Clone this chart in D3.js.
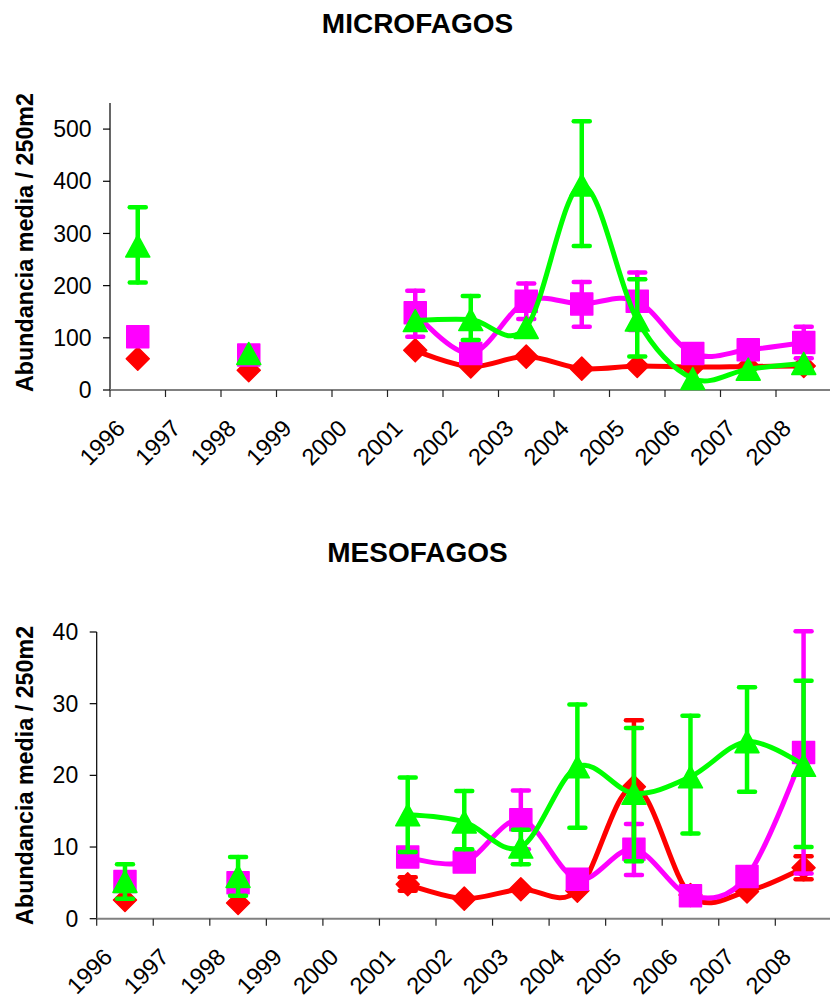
<!DOCTYPE html>
<html>
<head>
<meta charset="utf-8">
<script src="https://cdn.jsdelivr.net/npm/d3@7"></script>
<style>
  html, body { margin: 0; padding: 0; background: #fff; }
  svg { display: block; }
  text { font-family: "Liberation Sans", Arial, sans-serif; fill: #000; }
</style>
</head>
<body>
<svg id="chart" width="830" height="1001"></svg>
<script>
// ---------- DATA ----------
const years = ["1996","1997","1998","1999","2000","2001","2002","2003","2004","2005","2006","2007","2008"];

const microTicks = [0, 100, 200, 300, 400, 500];
const mesoTicks = [0, 10, 20, 30, 40];

// MICROFAGOS
const microRed      = [60, null, 38, null, null, 76, 45, 64, 41, 46, 44, 45, 46];
const microRedHi    = [null, null, null, null, null, null, null, null, null, null, null, null, null];
const microRedLo    = [null, null, null, null, null, null, null, null, null, null, null, null, null];
const microMagenta  = [102, null, 67, null, null, 148, 70, 170, 165, 170, 70, 77, 91];
const microMagentaHi= [null, null, null, null, null, 190, null, 204, 207, 225, null, null, 121];
const microMagentaLo= [null, null, null, null, null, 102, null, 136, 121, 115, null, null, 61];
const microGreen    = [276, null, 70, null, null, 133, 135, 120, 393, 134, 22, 40, 51];
const microGreenHi  = [350, null, null, null, null, null, 180, null, 515, 212, null, null, null];
const microGreenLo  = [206, null, null, null, null, null, 96, null, 276, 64, null, null, null];

// MESOFAGOS
const mesoRed       = [2.6, null, 2.2, null, null, 4.8, 2.8, 4.1, 3.9, 18.4, 3.3, 3.8, 7.1];
const mesoRedHi     = [null, null, null, null, null, 5.8, null, null, null, 27.7, null, null, 8.7];
const mesoRedLo     = [null, null, null, null, null, 3.9, null, null, null, 9.1, null, null, 5.5];
const mesoMagenta   = [5.2, null, 5.0, null, null, 8.6, 7.9, 13.8, 5.5, 9.7, 3.2, 5.9, 23.2];
const mesoMagentaHi = [null, null, null, null, null, null, null, 17.9, null, 13.2, null, null, 40.1];
const mesoMagentaLo = [null, null, null, null, null, null, null, 9.7, null, 6.1, null, null, 6.3];
const mesoGreen     = [5.2, null, 5.9, null, null, 14.5, 13.5, 10.0, 21.2, 17.5, 19.8, 24.7, 21.4];
const mesoGreenHi   = [7.6, null, 8.6, null, null, 19.7, 17.8, 12.4, 29.9, 26.6, 28.3, 32.3, 33.2];
const mesoGreenLo   = [2.8, null, 3.2, null, null, 9.3, 9.7, 7.6, 12.7, 8.0, 11.9, 17.7, 10.0];

const colRed = "#FF0000", colMagenta = "#FF00FF", colGreen = "#00FF00";

// ---------- DRAW ----------
const svg = d3.select("#chart");

function markerPath(shape) {
  if (shape === "diamond") return "M0,-11.5L11.5,0L0,11.5L-11.5,0Z";
  if (shape === "triangle") return "M0,-11L12,11L-12,11Z";
  return "M-11,-11L11,-11L11,11L-11,11Z";
}

function drawChart(cfg) {
  const g = svg.append("g");
  const x = d3.scaleBand().domain(years).range([cfg.x0, cfg.x1]).padding(0);
  const y = d3.scaleLinear().domain(cfg.domain).range([cfg.yBottom, cfg.yTop]);
  const cx = d => x(d) + x.bandwidth() / 2;

  // title
  g.append("text")
    .attr("x", cfg.titleX).attr("y", cfg.titleY)
    .attr("text-anchor", "middle")
    .style("font-size", "28px").style("font-weight", "bold")
    .text(cfg.title);

  // y label
  g.append("text")
    .attr("transform", `translate(${cfg.ylabX},${(cfg.yBottom + cfg.yTop) / 2 + cfg.ylabDy}) rotate(-90)`)
    .attr("text-anchor", "middle")
    .style("font-size", "23.3px").style("font-weight", "bold")
    .text("Abundancia media / 250m2");

  // y axis
  g.append("line")
    .attr("x1", cfg.x0).attr("x2", cfg.x0)
    .attr("y1", y(cfg.domain[0])).attr("y2", y(cfg.domain[1]))
    .attr("stroke", "#000").attr("stroke-width", 1.2);
  const yt = g.selectAll(".ytick").data(cfg.ticks).enter().append("g");
  yt.append("line")
    .attr("x1", cfg.x0 - 7).attr("x2", cfg.x0)
    .attr("y1", d => y(d)).attr("y2", d => y(d))
    .attr("stroke", "#000").attr("stroke-width", 1.2);
  yt.append("text")
    .attr("x", cfg.x0 - 18.5).attr("y", d => y(d))
    .attr("dy", "0.35em").attr("text-anchor", "end")
    .style("font-size", "23px")
    .text(d => d);

  // x axis
  g.append("line")
    .attr("x1", cfg.x0).attr("x2", cfg.x1)
    .attr("y1", cfg.yBottom).attr("y2", cfg.yBottom)
    .attr("stroke", "#808080").attr("stroke-width", 2);
  g.selectAll(".xtick").data(years).enter().append("line")
    .attr("x1", d => x(d)).attr("x2", d => x(d))
    .attr("y1", cfg.yBottom).attr("y2", cfg.yBottom + 7)
    .attr("stroke", "#222").attr("stroke-width", 1.2);
  g.selectAll(".xlab").data(years).enter().append("text")
    .attr("transform", d => `translate(${cx(d) - 17},${cfg.yBottom + 34}) rotate(-45)`)
    .attr("dy", "0.35em").attr("text-anchor", "end")
    .style("font-size", "23.5px")
    .text(d => d);

  // series
  cfg.series.forEach(s => {
    const pts = years.map((yr, i) => ({ yr, v: s.values[i], hi: s.hi[i], lo: s.lo[i] }));
    const sg = g.append("g");
    // error bars
    const eb = pts.filter(p => p.v != null && (p.hi != null || p.lo != null));
    eb.forEach(p => {
      const top = p.hi != null ? p.hi : p.v;
      const bot = p.lo != null ? p.lo : p.v;
      sg.append("line")
        .attr("x1", cx(p.yr)).attr("x2", cx(p.yr))
        .attr("y1", y(top)).attr("y2", y(bot))
        .attr("stroke", s.color).attr("stroke-width", 4.5).attr("stroke-linecap", "round");
      [p.hi, p.lo].forEach(c => {
        if (c == null) return;
        sg.append("line")
          .attr("x1", cx(p.yr) - 8).attr("x2", cx(p.yr) + 8)
          .attr("y1", y(c)).attr("y2", y(c))
          .attr("stroke", s.color).attr("stroke-width", 4.5).attr("stroke-linecap", "round");
      });
    });
    // line
    const line = d3.line()
      .defined(p => p.v != null)
      .x(p => cx(p.yr)).y(p => y(p.v))
      .curve(d3.curveCatmullRom.alpha(0));
    sg.append("path")
      .datum(pts)
      .attr("d", line)
      .attr("fill", "none").attr("stroke", s.color)
      .attr("stroke-width", 5).attr("stroke-linejoin", "round");
    // markers
    sg.selectAll(".m").data(pts.filter(p => p.v != null)).enter().append("path")
      .attr("transform", p => `translate(${cx(p.yr)},${y(p.v)})`)
      .attr("d", markerPath(s.shape))
      .attr("fill", s.color).attr("stroke", s.color)
      .attr("stroke-width", 1.5).attr("stroke-linejoin", "round");
  });
}

drawChart({
  title: "MICROFAGOS", titleX: 417.5, titleY: 33,
  x0: 110, x1: 110 + 13 * 55.5,
  yBottom: 390, yTop: 103, domain: [0, 550], ticks: microTicks,
  ylabX: 33, ylabDy: -4,
  series: [
    { values: microRed, hi: microRedHi, lo: microRedLo, color: colRed, shape: "diamond" },
    { values: microMagenta, hi: microMagentaHi, lo: microMagentaLo, color: colMagenta, shape: "square" },
    { values: microGreen, hi: microGreenHi, lo: microGreenLo, color: colGreen, shape: "triangle" }
  ]
});

drawChart({
  title: "MESOFAGOS", titleX: 417.5, titleY: 562,
  x0: 96.7, x1: 96.7 + 13 * 56.55,
  yBottom: 918.7, yTop: 632, domain: [0, 40], ticks: mesoTicks,
  ylabX: 33, ylabDy: 0,
  series: [
    { values: mesoRed, hi: mesoRedHi, lo: mesoRedLo, color: colRed, shape: "diamond" },
    { values: mesoMagenta, hi: mesoMagentaHi, lo: mesoMagentaLo, color: colMagenta, shape: "square" },
    { values: mesoGreen, hi: mesoGreenHi, lo: mesoGreenLo, color: colGreen, shape: "triangle" }
  ]
});
</script>
</body>
</html>
